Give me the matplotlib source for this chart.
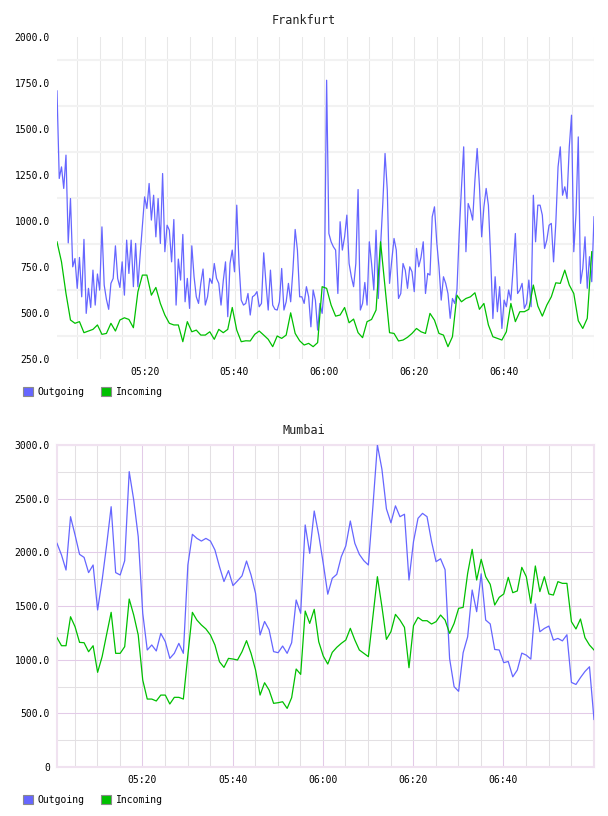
import matplotlib
matplotlib.use("Agg")
import matplotlib.pyplot as plt
import numpy as np
from matplotlib.patches import Patch
from matplotlib.ticker import FixedLocator, FuncFormatter, MultipleLocator

# ---------------- data ----------------
# time axis: minutes after 05:00
fra_out_start, fra_out_step = 0.5, 0.5      # 30 s samples
fra_in_start, fra_in_step = 0.5, 1.0        # 1 min samples
mum_start, mum_step = 1.08, 1.0             # 1 min samples

fra_outgoing = [
    1707, 1231, 1294, 1177, 1358, 881, 1122, 751, 796, 634, 802, 588, 900, 498, 634, 530, 733, 543, 712, 624,
    968, 652, 574, 520, 661, 688, 865, 688, 639, 778, 597, 896, 715, 896, 643, 878, 643, 815, 977, 1131,
    1068, 1204, 1005, 1140, 914, 1122, 878, 1258, 833, 977, 950, 778, 1008, 543, 793, 679, 927, 561, 688, 525,
    865, 697, 588, 552, 661, 739, 543, 588, 688, 661, 769, 688, 661, 543, 675, 778, 480, 769, 842, 724,
    1086, 769, 570, 543, 552, 606, 489, 588, 597, 616, 534, 552, 827, 661, 516, 733, 543, 520, 516, 561,
    742, 516, 561, 661, 561, 733, 954, 842, 588, 588, 552, 643, 588, 425, 625, 570, 407, 552, 498, 643,
    1765, 932, 887, 860, 842, 606, 996, 842, 914, 1032, 769, 697, 643, 769, 1171, 516, 552, 666, 543, 887,
    769, 625, 950, 579, 860, 1095, 1367, 1168, 661, 787, 905, 842, 579, 606, 769, 733, 634, 751, 724, 616,
    851, 751, 802, 887, 606, 715, 706, 1023, 1077, 887, 751, 570, 697, 661, 606, 471, 579, 552, 625, 932,
    1177, 1403, 833, 1095, 1059, 1005, 1222, 1394, 1195, 914, 1077, 1177, 1086, 806, 470, 697, 507, 643, 416, 570,
    534, 625, 570, 742, 932, 606, 625, 661, 525, 552, 679, 534, 1140, 887, 1086, 1086, 1032, 851, 896, 977,
    987, 778, 987, 1294, 1403, 1140, 1186, 1122, 1403, 1575, 833, 1041, 1457, 661, 742, 914, 634, 806, 670, 1023,
]
fra_incoming = [
    887, 778, 606, 462, 444, 453, 393, 402, 411, 435,
    384, 389, 444, 402, 462, 474, 465, 420, 615, 706,
    706, 597, 639, 552, 489, 444, 435, 435, 344, 453,
    398, 407, 380, 380, 398, 357, 411, 393, 411, 530,
    407, 344, 349, 348, 384, 402, 380, 357, 317, 375,
    362, 380, 501, 389, 349, 326, 335, 317, 339, 643,
    634, 543, 483, 489, 530, 447, 467, 393, 366, 453,
    465, 516, 887, 640, 393, 389, 348, 353, 368, 389,
    416, 398, 389, 498, 461, 389, 380, 317, 371, 597,
    561, 579, 588, 610, 520, 552, 435, 371, 362, 353,
    398, 552, 453, 507, 507, 520, 652, 538, 483, 543,
    588, 664, 661, 733, 652, 606, 458, 416, 471, 833,
]
mum_outgoing = [
    2084, 1975, 1835, 2332, 2162, 1981, 1953, 1811, 1882, 1463,
    1742, 2068, 2425, 1811, 1789, 1922, 2752, 2488, 2146, 1432,
    1090, 1137, 1081, 1245, 1168, 1012, 1059, 1152, 1059, 1882,
    2168, 2130, 2105, 2130, 2105, 2022, 1867, 1728, 1830, 1690,
    1734, 1781, 1919, 1789, 1618, 1230, 1356, 1278, 1075, 1065,
    1127, 1059, 1158, 1556, 1432, 2255, 1991, 2385, 2162, 1898,
    1610, 1758, 1795, 1960, 2060, 2292, 2084, 1981, 1922, 1882,
    2425, 3000, 2775, 2405, 2275, 2433, 2332, 2355, 1742, 2100,
    2317, 2363, 2332, 2100, 1913, 1940, 1838, 1010, 748, 705,
    1065, 1213, 1649, 1447, 1800, 1369, 1333, 1095, 1090, 972,
    983, 840, 903, 1061, 1042, 1005, 1520, 1260, 1291, 1313,
    1182, 1198, 1175, 1232, 788, 769, 833, 890, 934, 443,
]
mum_incoming = [
    1205, 1130, 1130, 1400, 1307, 1161, 1158, 1074, 1130, 882,
    1028, 1236, 1441, 1059, 1059, 1121, 1565, 1416, 1230, 810,
    633, 633, 615, 670, 670, 587, 649, 649, 633, 1043,
    1441, 1369, 1323, 1286, 1230, 1136, 981, 928, 1012, 1006,
    997, 1074, 1177, 1059, 904, 670, 785, 717, 593, 599,
    608, 546, 646, 913, 863, 1453, 1338, 1469, 1167, 1034,
    959, 1068, 1115, 1152, 1183, 1292, 1183, 1090, 1059, 1028,
    1400, 1773, 1494, 1189, 1261, 1422, 1369, 1301, 925, 1317,
    1394, 1363, 1363, 1332, 1354, 1416, 1369, 1245, 1338, 1478,
    1487, 1804, 2028, 1742, 1935, 1773, 1702, 1509, 1581, 1612,
    1767, 1624, 1640, 1860, 1773, 1525, 1873, 1634, 1773, 1612,
    1602, 1727, 1711, 1711, 1354, 1286, 1379, 1205, 1136, 1090,
]
series_labels = ["Outgoing", "Incoming"]
titles = ["Frankfurt", "Mumbai"]
time_ticks = [20, 40, 60, 80, 100]

# ---------------- style ----------------
BLUE = "#6666ff"
GREEN = "#00c000"
MONO = "DejaVu Sans Mono"
plt.rcParams["font.family"] = MONO

fig = plt.figure(figsize=(6.08, 8.16), dpi=100)
W, H = 608, 816


def ax_rect(left, top, right, bottom):
    return [left / W, 1 - bottom / H, (right - left) / W, (bottom - top) / H]


def time_fmt(v, pos):
    m = int(round(v))
    return "%02d:%02d" % (5 + m // 60, m % 60)


def val_fmt(v, pos):
    return "0" if abs(v) < 1e-9 else "%.1f" % v


def draw(ax, t_out, y_out, t_in, y_in):
    ax.plot(t_out, y_out, color=BLUE, lw=0.9, zorder=3)
    ax.plot(t_in, y_in, color=GREEN, lw=0.9, zorder=3)


# ---------- Frankfurt ----------
ax1 = fig.add_axes(ax_rect(57, 37, 594, 359))
t1o = fra_out_start + fra_out_step * np.arange(len(fra_outgoing))
t1i = fra_in_start + fra_in_step * np.arange(len(fra_incoming))
draw(ax1, t1o, fra_outgoing, t1i, fra_incoming)
ax1.set_xlim(t1o[0], t1o[-1])
ax1.set_ylim(250, 2000)
ax1.xaxis.set_major_locator(FixedLocator(time_ticks))
ax1.xaxis.set_minor_locator(MultipleLocator(5))
ax1.xaxis.set_major_formatter(FuncFormatter(time_fmt))
ax1.yaxis.set_major_locator(MultipleLocator(250))
ax1.yaxis.set_minor_locator(FixedLocator(np.arange(375, 2000, 250)))
ax1.yaxis.set_major_formatter(FuncFormatter(val_fmt))
ax1.grid(True, axis="x", which="both", color="#e8e8e8", lw=0.75, zorder=0)
ax1.grid(True, axis="y", which="minor", color="#f2f2f2", lw=1.5, zorder=0)
ax1.grid(False, axis="y", which="major")
for s in ax1.spines.values():
    s.set_visible(False)
ax1.tick_params(which="both", length=0)
ax1.tick_params(axis="y", pad=5, labelsize=7)
ax1.tick_params(axis="x", pad=6, labelsize=7)
fig.text(0.5, 1 - 20 / H, titles[0], ha="center", va="center", fontsize=8.5, color="#222222")

# ---------- Mumbai ----------
ax2 = fig.add_axes(ax_rect(57, 445, 594, 767))
t2 = mum_start + mum_step * np.arange(len(mum_outgoing))
draw(ax2, t2, mum_outgoing, t2, mum_incoming)
ax2.set_xlim(t2[0], t2[-1])
ax2.set_ylim(0, 3000)
ax2.xaxis.set_major_locator(FixedLocator(time_ticks))
ax2.xaxis.set_minor_locator(MultipleLocator(5))
ax2.xaxis.set_major_formatter(FuncFormatter(time_fmt))
ax2.yaxis.set_major_locator(MultipleLocator(500))
ax2.yaxis.set_minor_locator(MultipleLocator(250))
ax2.yaxis.set_major_formatter(FuncFormatter(val_fmt))
ax2.grid(True, which="major", color="#e3cbe8", lw=0.75, zorder=0)
ax2.grid(True, which="minor", color="#e3e0e3", lw=0.75, zorder=0)
for s in ax2.spines.values():
    s.set_color("#f0e2f0")
    s.set_linewidth(1.5)
ax2.tick_params(which="both", length=0)
ax2.tick_params(axis="y", pad=5, labelsize=7)
ax2.tick_params(axis="x", pad=6, labelsize=7)
fig.text(0.5, 1 - 430 / H, titles[1], ha="center", va="center", fontsize=8.5, color="#222222")

# ---------- legends ----------
handles = [Patch(facecolor=BLUE, edgecolor="#8a8a8a", lw=0.8),
           Patch(facecolor=GREEN, edgecolor="#8a8a8a", lw=0.8)]
for ypix in (392, 800):
    fig.legend(handles, series_labels, loc="center left",
               bbox_to_anchor=(23 / W, 1 - ypix / H), ncol=2, frameon=False,
               handlelength=1.0, handleheight=1.0, handletextpad=0.5,
               columnspacing=1.7, borderpad=0, borderaxespad=0,
               prop={"family": MONO, "size": 7})

fig.savefig("out.png", dpi=100)
